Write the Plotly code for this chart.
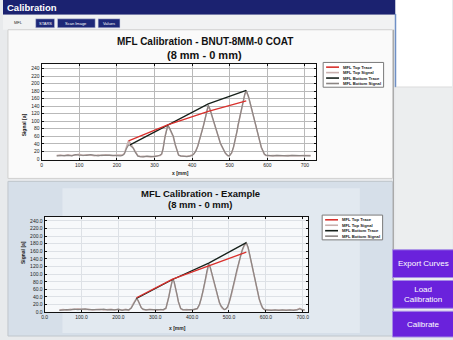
import plotly.graph_objects as go

W, H = 453, 340

# ---------------- data ----------------
legend_labels = ["MFL Top Trace", "MFL Top Signal", "MFL Bottom Trace", "MFL Bottom Signal"]

# upper chart: BNUT-8MM-0 COAT
top_x = [40, 50, 60, 70, 80, 90, 100, 110, 120, 130, 140, 150, 160, 170, 180, 190, 200, 210,
         215, 220, 225, 228, 231, 235, 240, 244, 248, 252, 256, 262, 270, 280, 290, 300, 306, 311,
         315, 319, 323, 328, 332, 335, 339, 344, 350, 355, 360, 364, 370, 378, 386, 394,
         400, 405, 410, 415, 420, 425, 430, 435, 440, 443, 447, 452, 456, 460, 465, 470, 475, 478,
         483, 488, 492, 496, 500, 505, 510, 515, 520, 522, 526, 530, 535, 540, 544, 550, 555, 560,
         566, 572, 578, 584, 588, 592, 596, 605, 615, 625, 635, 645, 655, 665, 675, 685, 695, 705, 715]
top_top_signal = [9, 10, 8, 11, 9, 10, 12, 9, 11, 10, 8, 10, 9, 11, 9, 8, 10, 9,
                  10, 15, 30, 41, 48, 43, 34, 30, 20, 12, 8, 6, 7, 6, 5, 7, 7, 8,
                  9, 12, 28, 60, 80, 88, 83, 72, 58, 37, 18, 10, 7, 6, 7, 8,
                  10, 14, 22, 34, 50, 68, 88, 108, 130, 141, 132, 115, 100, 88, 70, 55, 42, 35,
                  24, 16, 11, 8, 9, 15, 30, 50, 75, 88, 108, 128, 150, 170, 180, 164, 145, 125,
                  100, 75, 50, 30, 21, 12, 9, 8, 9, 8, 9, 8, 9, 8, 9, 8, 9, 8, 9]
top_bottom_signal = [8, 9, 10, 9, 8, 11, 10, 10, 9, 11, 9, 8, 10, 9, 10, 9, 8, 8,
                     9, 13, 26, 34, 37, 36, 31, 28, 19, 11, 7, 6, 5, 7, 6, 6, 7, 8,
                     10, 13, 27, 58, 79, 87, 84, 73, 60, 39, 19, 10, 8, 7, 6, 7,
                     9, 13, 21, 33, 49, 67, 87, 108, 131, 143, 134, 117, 102, 89, 71, 56, 42, 36,
                     25, 16, 11, 8, 9, 16, 31, 51, 76, 88, 109, 129, 151, 172, 182, 166, 146, 126,
                     101, 76, 51, 31, 22, 13, 10, 9, 8, 9, 8, 9, 8, 9, 9, 8, 8, 9, 8]
top_trace_top_x = [231, 335, 443, 544]
top_trace_top_y = [48, 90, 126, 154]
top_trace_bot_x = [235, 335, 443, 544]
top_trace_bot_y = [37, 90, 146, 182]
top_yticks = [0, 20, 40, 60, 80, 100, 120, 140, 160, 180, 200, 220, 240]
top_xticks = [0, 100, 200, 300, 400, 500, 600, 700]

# lower chart: Example
bot_x = [40, 50, 60, 70, 80, 90, 100, 110, 120, 130, 140, 150, 160, 170, 180, 190, 200, 210,
         220, 228, 235, 240, 245, 249, 253, 258, 262, 267, 275, 285, 295, 305, 315, 322,
         329, 333, 337, 341, 344, 347, 351, 355, 359, 363, 366, 369, 375, 385, 395, 405,
         414, 420, 425, 430, 435, 440, 445, 449, 454, 459, 464, 469, 474, 478, 482, 487,
         491, 496, 501, 506, 511, 516, 521, 526, 531, 536, 541, 547, 552, 557, 562, 567,
         572, 577, 582, 587, 591, 596, 605, 615, 625, 635, 645, 655, 665, 675, 685, 692, 698, 705]
bot_top_signal = [6, 7, 6, 8, 7, 9, 8, 7, 8, 6, 7, 8, 6, 7, 8, 6, 7, 6,
                  8, 5, 12, 22, 31, 36, 31, 20, 12, 7, 6, 8, 6, 5, 7, 6,
                  10, 24, 42, 62, 78, 87, 80, 65, 45, 26, 15, 9, 6, 7, 6, 7,
                  9, 20, 36, 56, 80, 106, 125, 117, 98, 78, 58, 40, 25, 16, 10, 7,
                  8, 13, 26, 44, 64, 86, 108, 128, 146, 162, 174, 181, 168, 146, 122, 97,
                  74, 52, 34, 20, 11, 7, 5, 6, 5, 6, 5, 6, 5, 6, 7, 10, 6, 5]
bot_bottom_signal = [5, 6, 7, 6, 8, 7, 8, 9, 7, 7, 6, 7, 8, 6, 7, 6, 8, 5,
                     7, 6, 11, 21, 30, 35, 32, 21, 12, 8, 6, 7, 7, 6, 6, 7,
                     11, 23, 41, 61, 77, 86, 81, 66, 46, 27, 16, 10, 7, 6, 7, 7,
                     10, 21, 37, 57, 82, 108, 127, 119, 100, 79, 59, 41, 26, 17, 11, 7,
                     8, 14, 27, 45, 66, 88, 110, 130, 148, 164, 176, 183, 170, 148, 123, 98,
                     75, 53, 35, 21, 12, 7, 6, 5, 6, 5, 6, 5, 6, 5, 6, 9, 7, 6]
bot_trace_top_x = [249, 347, 445, 547]
bot_trace_top_y = [38, 87, 122, 158]
bot_trace_bot_x = [249, 347, 445, 547]
bot_trace_bot_y = [36, 86, 129, 183]
bot_yticks = [0, 20, 40, 60, 80, 100, 120, 140, 160, 180, 200, 220, 240]
bot_xticks = [0, 100, 200, 300, 400, 500, 600, 700]

# ---------------- styling ----------------
RED = "#d9302c"
PINK = "#c9b0ae"
BLACK = "#16201a"
GREY = "#8b8583"
FONT = "Liberation Sans"


def px(x):
    return x / W


def py(y):
    return 1 - y / H


fig = go.Figure()

# top chart traces
fig.add_trace(go.Scatter(x=top_x, y=top_top_signal, mode="lines", line=dict(color=PINK, width=1.5),
                         xaxis="x", yaxis="y", showlegend=False, name=legend_labels[1]))
fig.add_trace(go.Scatter(x=top_x, y=top_bottom_signal, mode="lines", line=dict(color=GREY, width=1.2),
                         xaxis="x", yaxis="y", showlegend=False, name=legend_labels[3]))
fig.add_trace(go.Scatter(x=top_trace_bot_x, y=top_trace_bot_y, mode="lines", line=dict(color=BLACK, width=1.3),
                         xaxis="x", yaxis="y", showlegend=False, name=legend_labels[2]))
fig.add_trace(go.Scatter(x=top_trace_top_x, y=top_trace_top_y, mode="lines", line=dict(color=RED, width=1.3),
                         xaxis="x", yaxis="y", showlegend=False, name=legend_labels[0]))

# bottom chart traces
fig.add_trace(go.Scatter(x=bot_x, y=bot_top_signal, mode="lines", line=dict(color=PINK, width=1.5),
                         xaxis="x2", yaxis="y2", showlegend=False, name=legend_labels[1]))
fig.add_trace(go.Scatter(x=bot_x, y=bot_bottom_signal, mode="lines", line=dict(color=GREY, width=1.2),
                         xaxis="x2", yaxis="y2", showlegend=False, name=legend_labels[3]))
fig.add_trace(go.Scatter(x=bot_trace_bot_x, y=bot_trace_bot_y, mode="lines", line=dict(color=BLACK, width=1.3),
                         xaxis="x2", yaxis="y2", showlegend=False, name=legend_labels[2]))
fig.add_trace(go.Scatter(x=bot_trace_top_x, y=bot_trace_top_y, mode="lines", line=dict(color=RED, width=1.3),
                         xaxis="x2", yaxis="y2", showlegend=False, name=legend_labels[0]))

tickfont = dict(family=FONT, size=5, color="#222")

axis_common = dict(showline=True, linecolor="#111", linewidth=1, mirror="ticks", ticks="inside",
                   ticklen=2, tickcolor="#111", tickfont=tickfont, zeroline=False, fixedrange=True)

shapes = []
ann = []


def rect(x0, y0, x1, y1, fill, line=None, lw=0, layer="below"):
    shapes.append(dict(type="rect", xref="paper", yref="paper", x0=px(x0), x1=px(x1), y0=py(y1), y1=py(y0),
                       fillcolor=fill, line=dict(color=line or fill, width=lw), layer=layer))


def line(x0, y0, x1, y1, color, lw=1, layer="below"):
    shapes.append(dict(type="line", xref="paper", yref="paper", x0=px(x0), x1=px(x1), y0=py(y0), y1=py(y1),
                       line=dict(color=color, width=lw), layer=layer))


def text(x, y, s, size, color="#111", xanchor="center", bold=False):
    ann.append(dict(x=px(x), y=py(y), xref="paper", yref="paper", text=("<b>%s</b>" % s) if bold else s,
                    showarrow=False, xanchor=xanchor, yanchor="middle",
                    font=dict(family=FONT, size=size, color=color)))


# UI chrome
rect(0, 0, 396, 15, "#1b2270")
text(2, 8, "Calibration", 9.5, "white", "left", True)
rect(0, 15, 396, 30, "#f1f2f3")
rect(396, 0, 453, 88, "#ffffff")
line(396, 14, 396, 88, "#6f90c6", 1.5)
line(396, 88, 453, 88, "#bdbdbd", 1)
rect(396, 88, 453, 340, "#eceeef")
line(394, 30, 394, 340, "#a9a9a9", 1)
text(16, 23, "MFL", 4, "#222")
for (a, b, s) in [(33, 52, "STARS"), (55, 93, "Scan Image"), (96, 118, "Values")]:
    rect(a, 19, b, 28, "#1d2878", "#c9cde0", 0.5)
    text((a + b) / 2, 23.5, s, 4, "white")

# top panel
rect(5, 30, 393, 180, "#fafafa", "#d0d0d0", 1)
# bottom panel
rect(5, 183, 393, 339, "#d6dfe9", "#c0c6cc", 1)
rect(60, 190, 360, 336, "#e2e9f0")
# plot areas
shapes.append(dict(type="rect", xref="x domain", yref="y domain", x0=0, x1=1, y0=0, y1=1,
                   fillcolor="#ffffff", line=dict(width=0), layer="below"))
shapes.append(dict(type="rect", xref="x2 domain", yref="y2 domain", x0=0, x1=1, y0=0, y1=1,
                   fillcolor="#f7f9fb", line=dict(width=0), layer="below"))

# titles
text(204, 42, "MFL Calibration - BNUT-8MM-0 COAT", 10, "#111", bold=True)
text(203, 55, "(8 mm - 0 mm)", 11, "#111", bold=True)
text(199, 195, "MFL Calibration - Example", 9.5, "#111", bold=True)
text(199, 206, "(8 mm - 0 mm)", 9.5, "#111", bold=True)

# axis titles
ann.append(dict(x=px(16), y=py(112), xref="paper", yref="paper", text="<b>Signal [a]</b>", textangle=-90,
                showarrow=False, font=dict(family=FONT, size=5, color="#222")))
text(179, 175, "x [mm]", 5, "#222", bold=True)
ann.append(dict(x=px(15), y=py(268), xref="paper", yref="paper", text="<b>Signal [a]</b>", textangle=-90,
                showarrow=False, font=dict(family=FONT, size=5, color="#222")))
text(176, 331, "x [mm]", 5, "#222", bold=True)


# legends (drawn manually, compact like the original)
def legend(x0, y0, x1, y1):
    rect(x0, y0, x1, y1, "#ffffff", "#7a7a7a", 1, layer="above")
    colors = [RED, PINK, BLACK, GREY]
    step = (y1 - y0 - 3) / 4
    for i, (lab, c) in enumerate(zip(legend_labels, colors)):
        yy = y0 + 2 + step * (i + 0.5)
        line(x0 + 3, yy, x0 + 16, yy, c, 1.6, layer="above")
        text(x0 + 18, yy, lab, 4.2, "#222", "left", True)


legend(323, 63, 384, 88)
legend(322, 217, 383, 242)

# buttons
for (y0, y1, s) in [(252, 280, "Export Curves"), (283, 311, "Load<br>Calibration"), (314, 340, "Calibrate")]:
    rect(393, y0, 455, y1, "#6a22dc", "#a58be6", 1)
    text(424, (y0 + y1) / 2, s, 8, "white")

fig.update_layout(
    width=W, height=H, autosize=False,
    margin=dict(l=0, r=0, t=0, b=0),
    paper_bgcolor="#e8eaec", plot_bgcolor="rgba(0,0,0,0)",
    showlegend=False,
    xaxis=dict(domain=[px(39), px(316)], range=[0, 730], anchor="y", tickvals=top_xticks,
               ticktext=[str(v) for v in top_xticks], showgrid=True, gridcolor="#b9b9b9", gridwidth=0.8,
               **axis_common),
    yaxis=dict(domain=[py(161), py(65)], range=[-2, 251], anchor="x", tickvals=top_yticks,
               ticktext=[str(v) for v in top_yticks], showgrid=True, gridcolor="#b9b9b9", gridwidth=0.8,
               **axis_common),
    xaxis2=dict(domain=[px(42), px(308)], range=[0, 715], anchor="y2", tickvals=bot_xticks,
                ticktext=["%.1f" % v for v in bot_xticks], showgrid=True, gridcolor="#dde1e6", gridwidth=0.8,
                **axis_common),
    yaxis2=dict(domain=[py(315), py(219)], range=[0, 250], anchor="x2", tickvals=bot_yticks,
                ticktext=["%.1f" % v for v in bot_yticks], showgrid=True, gridcolor="#dde1e6", gridwidth=0.8,
                **axis_common),
    shapes=shapes,
    annotations=ann,
)

fig.write_html("out.html", config={"displayModeBar": False},
               post_script="document.body.style.margin='0';document.body.style.padding='0';document.body.style.overflow='hidden';")
